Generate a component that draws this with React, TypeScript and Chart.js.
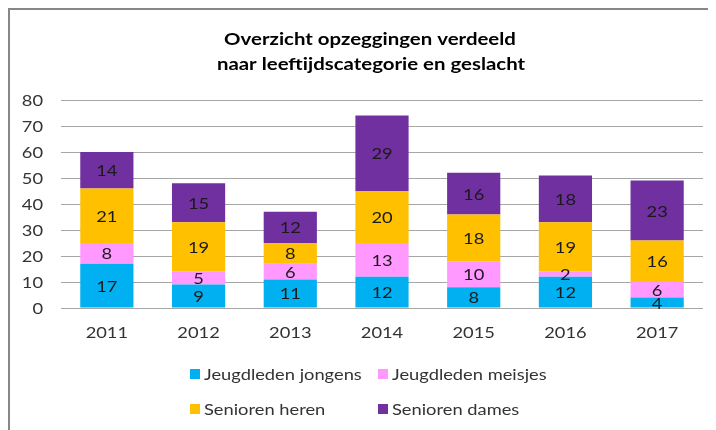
import React, { useEffect, useRef } from "react";
import { Chart, registerables } from "chart.js";

Chart.register(...registerables);

const years = ["2011", "2012", "2013", "2014", "2015", "2016", "2017"];
const jeugdJongens = [17, 9, 11, 12, 8, 12, 4];
const jeugdMeisjes = [8, 5, 6, 13, 10, 2, 6];
const seniorenHeren = [21, 19, 8, 20, 18, 19, 16];
const seniorenDames = [14, 15, 12, 29, 16, 18, 23];
const seriesNames = ["Jeugdleden jongens", "Jeugdleden meisjes", "Senioren heren", "Senioren dames"];
const seriesColors = ["#00B0F0", "#FF99FF", "#FFC000", "#7030A0"];
const titleLines = ["Overzicht opzeggingen verdeeld", "naar leeftijdscategorie en geslacht"];
const yMin = 0;
const yMax = 80;
const yStep = 10;

const FONT = 'Lato, "Open Sans", "Liberation Sans", sans-serif';
const SX = 1.18;

function drawText(ctx: any, text: string, x: number, y: number, align: string, sx: number) {
  ctx.save();
  ctx.translate(x, y);
  ctx.scale(sx, 1);
  ctx.textAlign = align;
  ctx.fillText(text, 0, 0);
  ctx.restore();
}

const decorPlugin = {
  id: "decor",
  afterDatasetsDraw(chart: any) {
    const ctx = chart.ctx;
    ctx.save();
    ctx.font = `15.5px ${FONT}`;
    ctx.fillStyle = "#1a1a1a";
    ctx.textBaseline = "middle";
    chart.data.datasets.forEach((ds: any, i: number) => {
      const meta = chart.getDatasetMeta(i);
      meta.data.forEach((el: any, j: number) => {
        const v = ds.data[j];
        const cy = (el.y + el.base) / 2;
        drawText(ctx, String(v), el.x, cy + 1, "center", SX);
      });
    });
    ctx.restore();
  },
  afterDraw(chart: any) {
    const ctx = chart.ctx;
    ctx.save();
    ctx.textBaseline = "middle";
    // axis tick labels
    ctx.font = `15.5px ${FONT}`;
    ctx.fillStyle = "#333333";
    const ys = chart.scales.y;
    ys.ticks.forEach((t: any, i: number) => {
      drawText(ctx, String(t.value), ys.right - 18, ys.getPixelForTick(i) + 1, "right", SX);
    });
    const xs = chart.scales.x;
    xs.ticks.forEach((t: any, i: number) => {
      drawText(ctx, String(xs.getLabelForValue(t.value)), xs.getPixelForTick(i), xs.top + 25, "center", SX);
    });
    // title
    ctx.font = `bold 17px ${FONT}`;
    ctx.fillStyle = "#000000";
    drawText(ctx, titleLines[0], 360, 30, "center", 1.2);
    drawText(ctx, titleLines[1], 361, 55, "center", 1.2);
    // legend
    const cols = [180, 368];
    const rows = [364, 399];
    ctx.font = `15.5px ${FONT}`;
    seriesNames.forEach((name, i) => {
      const x = cols[i % 2];
      const y = rows[Math.floor(i / 2)];
      ctx.fillStyle = seriesColors[i];
      ctx.fillRect(x, y - 5, 10, 10);
      ctx.fillStyle = "#333333";
      drawText(ctx, name, x + 14, y + 1, "left", SX);
    });
    ctx.restore();
  },
};

export default function App() {
  const ref = useRef<HTMLCanvasElement | null>(null);
  useEffect(() => {
    if (!ref.current) return;
    const series = [jeugdJongens, jeugdMeisjes, seniorenHeren, seniorenDames];
    const chart = new Chart(ref.current, {
      type: "bar",
      data: {
        labels: years,
        datasets: series.map((d, i) => ({
          label: seriesNames[i],
          data: d,
          backgroundColor: seriesColors[i],
          borderWidth: 0,
          barPercentage: 0.58,
          categoryPercentage: 1,
        })),
      },
      options: {
        responsive: false,
        animation: false,
        events: [],
        layout: { padding: { left: 0, right: 13, top: 90, bottom: 0 } },
        plugins: {
          legend: { display: false },
          title: { display: false },
          tooltip: { enabled: false },
        },
        scales: {
          x: {
            stacked: true,
            grid: { display: false, drawTicks: false },
            border: { display: false },
            ticks: { display: false },
            afterFit: (s: any) => { s.height = 122; },
          },
          y: {
            stacked: true,
            min: yMin,
            max: yMax,
            ticks: { display: false, stepSize: yStep },
            grid: { color: "#a6a6a6", lineWidth: 1, drawTicks: false },
            border: { display: false },
            afterFit: (s: any) => { s.width = 51; },
          },
        },
      },
      plugins: [decorPlugin],
    });
    return () => chart.destroy();
  }, []);
  return (
    <div
      style={{
        width: 708,
        height: 422,
        boxSizing: "border-box",
        borderLeft: "2px solid #878787",
        borderTop: "2px solid #878787",
        background: "#ffffff",
        overflow: "hidden",
      }}
    >
      <canvas ref={ref} width={706} height={420} style={{ display: "block" }} />
    </div>
  );
}
